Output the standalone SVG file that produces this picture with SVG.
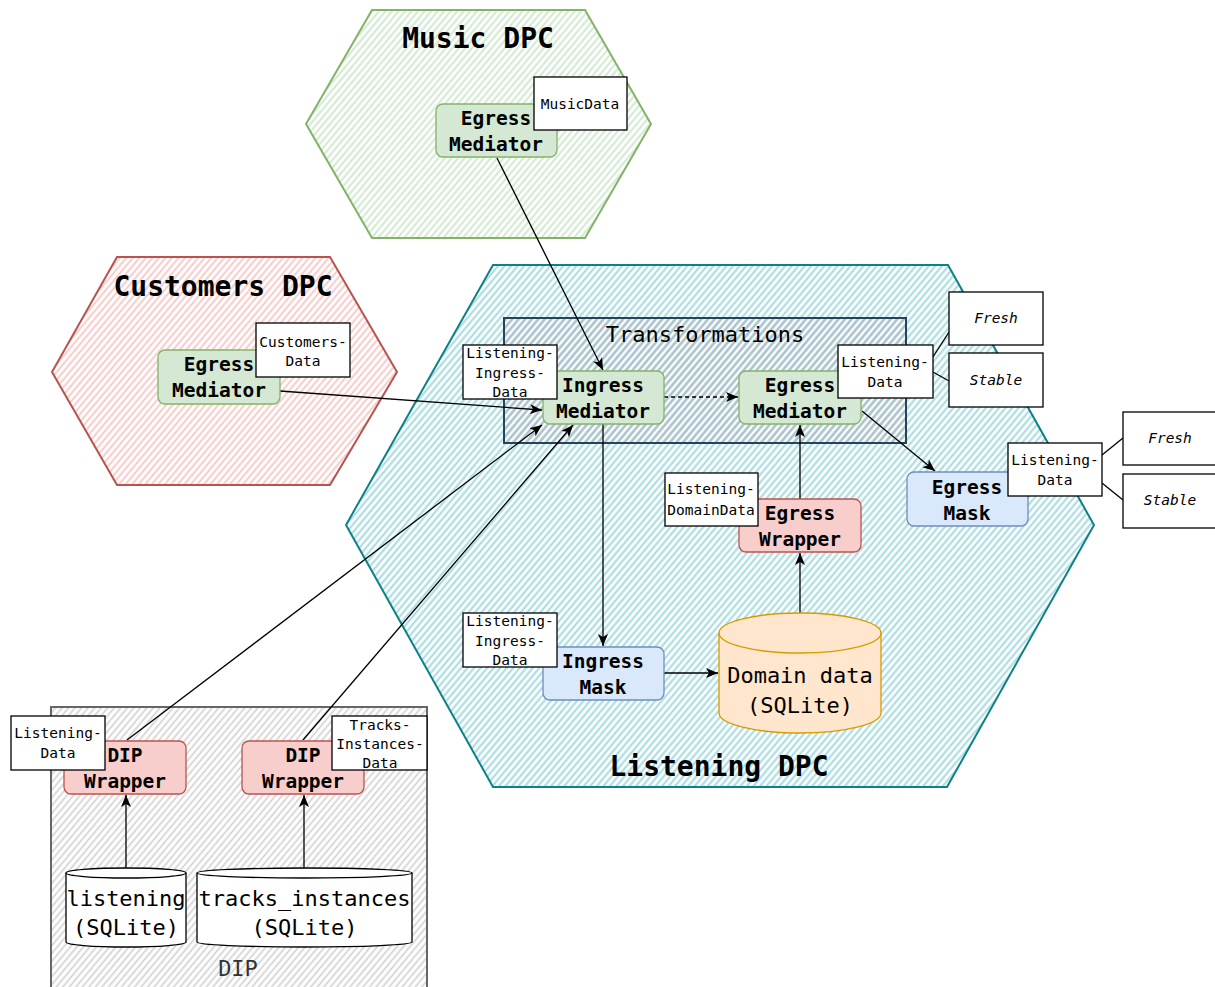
<svg xmlns="http://www.w3.org/2000/svg" width="1215" height="987" viewBox="0 0 1215 987">
  <defs>
    <!-- hachure fills for the sketch-style containers -->
    <pattern id="hatch-green" patternUnits="userSpaceOnUse" width="5" height="5" patternTransform="rotate(-50)">
      <line x1="0" y1="2.5" x2="5" y2="2.5" stroke="#d0e6cf" stroke-width="2"/>
    </pattern>
    <pattern id="hatch-red" patternUnits="userSpaceOnUse" width="5" height="5" patternTransform="rotate(-50)">
      <line x1="0" y1="2.5" x2="5" y2="2.5" stroke="#f4c4c2" stroke-width="1.8"/>
    </pattern>
    <pattern id="hatch-teal" patternUnits="userSpaceOnUse" width="5" height="5" patternTransform="rotate(-50)">
      <line x1="0" y1="2.5" x2="5" y2="2.5" stroke="#a2d9dd" stroke-width="2"/>
    </pattern>
    <pattern id="hatch-slate" patternUnits="userSpaceOnUse" width="5" height="5" patternTransform="rotate(-50)">
      <line x1="0" y1="2.5" x2="5" y2="2.5" stroke="#aebdc9" stroke-width="2"/>
    </pattern>
    <pattern id="hatch-gray" patternUnits="userSpaceOnUse" width="5" height="5" patternTransform="rotate(-50)">
      <line x1="0" y1="2.5" x2="5" y2="2.5" stroke="#cfcfcf" stroke-width="1.6"/>
    </pattern>
    <marker id="arrow" viewBox="0 0 12 10" refX="12" refY="5" markerWidth="12" markerHeight="10" markerUnits="userSpaceOnUse" orient="auto">
      <path d="M0,0 L12,5 L0,10 L3,5 Z" fill="#000"/>
    </marker>
  </defs>
  <style>
    text { font-family: "DejaVu Sans Mono", "Liberation Mono", monospace; text-anchor: middle; fill: #000; }
    .title { font-size: 28px; font-weight: bold; }
    .node { font-size: 19.5px; font-weight: bold; }
    .lbl { font-size: 14.5px; }
    .ital { font-size: 14.5px; font-style: italic; }
    .big { font-size: 22px; }
    .green { fill: #d5e8d4; stroke: #82b366; stroke-width: 1.3; }
    .red { fill: #f8cecc; stroke: #b85450; stroke-width: 1.3; }
    .blue { fill: #dae8fc; stroke: #6c8ebf; stroke-width: 1.3; }
    .tag { fill: #fff; stroke: #000; stroke-width: 1.3; }
    .edge { fill: none; stroke: #000; stroke-width: 1.3; }
  </style>

  <rect width="1215" height="987" fill="#fff"/>

  <!-- containers -->
  <g id="music-dpc">
    <polygon points="372,10 585,10 651,124 585,238 372,238 306,124" fill="url(#hatch-green)" stroke="#82b366" stroke-width="2"/>
    <text class="title" x="478" y="48">Music DPC</text>
  </g>
  <g id="customers-dpc">
    <polygon points="117,257 330,257 397,372 330,485 117,485 52,372" fill="url(#hatch-red)" stroke="#b85450" stroke-width="2"/>
    <text class="title" x="223" y="296">Customers DPC</text>
  </g>
  <g id="listening-dpc">
    <polygon points="493,265 948,265 1094,525 947,787 493,787 346,525" fill="url(#hatch-teal)" stroke="#0e8088" stroke-width="2"/>
    <text class="title" x="719" y="776">Listening DPC</text>
  </g>
  <g id="transformations">
    <rect x="504" y="318" width="402" height="125" fill="url(#hatch-slate)" stroke="#23445d" stroke-width="2"/>
    <text class="big" x="705" y="342">Transformations</text>
  </g>
  <g id="dip">
    <rect x="51" y="707" width="376" height="290" fill="url(#hatch-gray)" stroke="#666" stroke-width="2"/>
    <text class="big" x="238" y="976" style="fill:#333">DIP</text>
  </g>

  <!-- connectors -->
  <g id="connectors">
    <line class="edge" x1="497" y1="158" x2="603" y2="370" marker-end="url(#arrow)"/>
    <line class="edge" x1="280" y1="391" x2="542" y2="410" marker-end="url(#arrow)"/>
    <line class="edge" x1="127" y1="740" x2="542" y2="425" marker-end="url(#arrow)"/>
    <line class="edge" x1="303" y1="740" x2="573" y2="425" marker-end="url(#arrow)"/>
    <line class="edge" x1="664" y1="397" x2="738" y2="397" stroke-dasharray="4 3" marker-end="url(#arrow)"/>
    <line class="edge" x1="603" y1="424" x2="603" y2="646" marker-end="url(#arrow)"/>
    <line class="edge" x1="664" y1="673" x2="718" y2="673" marker-end="url(#arrow)"/>
    <line class="edge" x1="800" y1="613" x2="800" y2="553" marker-end="url(#arrow)"/>
    <line class="edge" x1="800" y1="499" x2="800" y2="425" marker-end="url(#arrow)"/>
    <line class="edge" x1="862" y1="411" x2="935" y2="471" marker-end="url(#arrow)"/>
    <line class="edge" x1="126" y1="868" x2="126" y2="795" marker-end="url(#arrow)"/>
    <line class="edge" x1="304" y1="868" x2="304" y2="795" marker-end="url(#arrow)"/>
    <line class="edge" x1="933" y1="357" x2="949" y2="332"/>
    <line class="edge" x1="933" y1="372" x2="949" y2="381"/>
    <line class="edge" x1="1102" y1="455" x2="1123" y2="438"/>
    <line class="edge" x1="1102" y1="483" x2="1123" y2="500"/>
  </g>

  <!-- nodes -->
  <g id="music-egress-mediator">
    <rect class="green" x="436" y="104" width="121" height="53" rx="7"/>
    <text class="node" x="496" y="125">Egress</text>
    <text class="node" x="496" y="151">Mediator</text>
  </g>
  <g id="customers-egress-mediator">
    <rect class="green" x="158" y="350" width="122" height="54" rx="7"/>
    <text class="node" x="219" y="371">Egress</text>
    <text class="node" x="219" y="397">Mediator</text>
  </g>
  <g id="ingress-mediator">
    <rect class="green" x="543" y="371" width="121" height="53" rx="7"/>
    <text class="node" x="603" y="392">Ingress</text>
    <text class="node" x="603" y="418">Mediator</text>
  </g>
  <g id="egress-mediator">
    <rect class="green" x="739" y="371" width="122" height="53" rx="7"/>
    <text class="node" x="800" y="392">Egress</text>
    <text class="node" x="800" y="418">Mediator</text>
  </g>
  <g id="egress-wrapper">
    <rect class="red" x="739" y="499" width="122" height="53" rx="7"/>
    <text class="node" x="800" y="520">Egress</text>
    <text class="node" x="800" y="546">Wrapper</text>
  </g>
  <g id="egress-mask">
    <rect class="blue" x="907" y="472" width="121" height="54" rx="7"/>
    <text class="node" x="967" y="494">Egress</text>
    <text class="node" x="967" y="520">Mask</text>
  </g>
  <g id="ingress-mask">
    <rect class="blue" x="543" y="647" width="121" height="53" rx="7"/>
    <text class="node" x="603" y="668">Ingress</text>
    <text class="node" x="603" y="694">Mask</text>
  </g>
  <g id="domain-data">
    <path d="M719,633 A81,20 0 0 1 881,633 L881,713 A81,20 0 0 1 719,713 Z" fill="#ffe6cc" stroke="#d79b00" stroke-width="1.3"/>
    <path d="M719,633 A81,20 0 0 0 881,633" fill="none" stroke="#d79b00" stroke-width="1.3"/>
    <text class="big" x="800" y="683">Domain data</text>
    <text class="big" x="800" y="713">(SQLite)</text>
  </g>
  <g id="dip-wrapper-listening">
    <rect class="red" x="64" y="741" width="122" height="53" rx="7"/>
    <text class="node" x="125" y="762">DIP</text>
    <text class="node" x="125" y="788">Wrapper</text>
  </g>
  <g id="dip-wrapper-tracks">
    <rect class="red" x="242" y="741" width="122" height="53" rx="7"/>
    <text class="node" x="303" y="762">DIP</text>
    <text class="node" x="303" y="788">Wrapper</text>
  </g>
  <g id="listening-db">
    <path d="M66,873 A60,5 0 0 1 186,873 L186,942 A60,5 0 0 1 66,942 Z" fill="#fff" stroke="#000" stroke-width="1.3"/>
    <path d="M66,873 A60,5 0 0 0 186,873" fill="none" stroke="#000" stroke-width="1.3"/>
    <text class="big" x="126" y="906">listening</text>
    <text class="big" x="126" y="935">(SQLite)</text>
  </g>
  <g id="tracks-instances-db">
    <path d="M197,873 A107.5,5 0 0 1 412,873 L412,942 A107.5,5 0 0 1 197,942 Z" fill="#fff" stroke="#000" stroke-width="1.3"/>
    <path d="M197,873 A107.5,5 0 0 0 412,873" fill="none" stroke="#000" stroke-width="1.3"/>
    <text class="big" x="304.5" y="906">tracks_instances</text>
    <text class="big" x="304.5" y="935">(SQLite)</text>
  </g>

  <!-- data type tags -->
  <g id="tag-music-data">
    <rect class="tag" x="534" y="77" width="93" height="53"/>
    <text class="lbl" x="580" y="109">MusicData</text>
  </g>
  <g id="tag-customers-data">
    <rect class="tag" x="256" y="323" width="94" height="54"/>
    <text class="lbl" x="303" y="347">Customers-</text>
    <text class="lbl" x="303" y="366">Data</text>
  </g>
  <g id="tag-listening-ingress-data-top">
    <rect class="tag" x="463" y="345" width="94" height="54"/>
    <text class="lbl" x="510" y="358">Listening-</text>
    <text class="lbl" x="510" y="378">Ingress-</text>
    <text class="lbl" x="510" y="397">Data</text>
  </g>
  <g id="tag-listening-data-transform">
    <rect class="tag" x="838" y="345" width="95" height="53"/>
    <text class="lbl" x="885" y="367">Listening-</text>
    <text class="lbl" x="885" y="387">Data</text>
  </g>
  <g id="tag-fresh-transform">
    <rect class="tag" x="949" y="292" width="94" height="53"/>
    <text class="ital" x="996" y="323">Fresh</text>
  </g>
  <g id="tag-stable-transform">
    <rect class="tag" x="949" y="353" width="94" height="54"/>
    <text class="ital" x="996" y="385">Stable</text>
  </g>
  <g id="tag-listening-data-mask">
    <rect class="tag" x="1008" y="443" width="94" height="53"/>
    <text class="lbl" x="1055" y="465">Listening-</text>
    <text class="lbl" x="1055" y="485">Data</text>
  </g>
  <g id="tag-fresh-mask">
    <rect class="tag" x="1123" y="412" width="94" height="53"/>
    <text class="ital" x="1170" y="443">Fresh</text>
  </g>
  <g id="tag-stable-mask">
    <rect class="tag" x="1123" y="474" width="94" height="54"/>
    <text class="ital" x="1170" y="505">Stable</text>
  </g>
  <g id="tag-listening-domain-data">
    <rect class="tag" x="665" y="473" width="93" height="53"/>
    <text class="lbl" x="711" y="494">Listening-</text>
    <text class="lbl" x="711" y="515">DomainData</text>
  </g>
  <g id="tag-listening-ingress-data-bottom">
    <rect class="tag" x="463" y="613" width="94" height="54"/>
    <text class="lbl" x="510" y="626">Listening-</text>
    <text class="lbl" x="510" y="646">Ingress-</text>
    <text class="lbl" x="510" y="665">Data</text>
  </g>
  <g id="tag-listening-data-dip">
    <rect class="tag" x="11" y="716" width="94" height="54"/>
    <text class="lbl" x="58" y="738">Listening-</text>
    <text class="lbl" x="58" y="758">Data</text>
  </g>
  <g id="tag-tracks-instances-data">
    <rect class="tag" x="332" y="716" width="95" height="54"/>
    <text class="lbl" x="380" y="730">Tracks-</text>
    <text class="lbl" x="380" y="749">Instances-</text>
    <text class="lbl" x="380" y="768">Data</text>
  </g>
</svg>
